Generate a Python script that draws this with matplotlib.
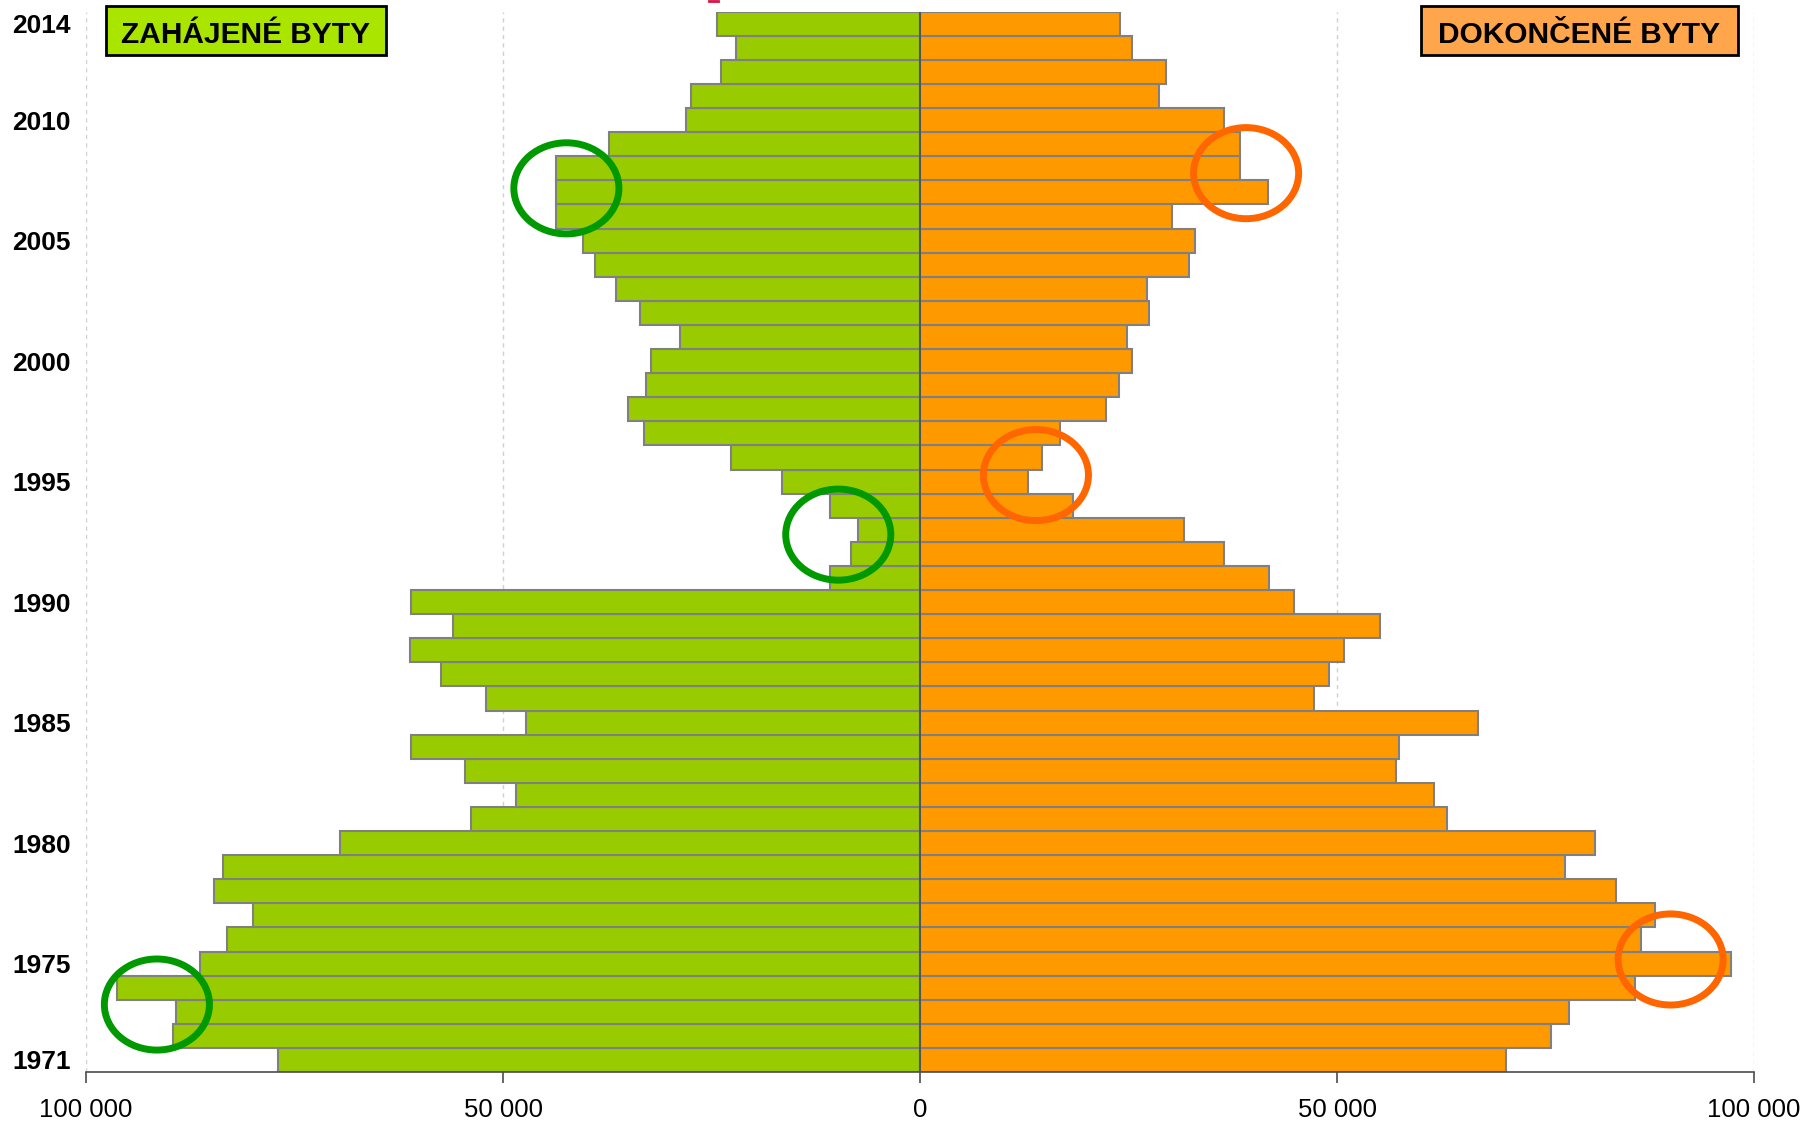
import matplotlib
matplotlib.use('Agg')
import matplotlib.pyplot as plt
from matplotlib.patches import Ellipse, Rectangle
from matplotlib.lines import Line2D

plt.rcParams['font.family'] = ['Liberation Sans', 'DejaVu Sans']

years = list(range(1971, 2015))
# zahajene byty (started), 1971..2014
started = [77000, 89600, 89200, 96300, 86300, 83100, 80000, 84700, 83600, 69500,
           53800, 48400, 54500, 61000, 47300, 52000, 57400, 61200, 56000, 61000,
           10800, 8300, 7400, 10800, 16500, 22700, 33100, 35000, 32900, 32300,
           28800, 33600, 36500, 39000, 40400, 43700, 43700, 43600, 37300, 28000,
           27500, 23900, 22100, 24300]
# dokoncene byty (completed), 1971..2014
completed = [70300, 75600, 77800, 85700, 97200, 86400, 88100, 83400, 77300, 80900,
             63200, 61600, 57100, 57400, 66900, 47200, 49100, 50800, 55200, 44800,
             41900, 36500, 31600, 18300, 13000, 14600, 16800, 22300, 23900, 25400,
             24800, 27500, 27200, 32300, 33000, 30200, 41700, 38400, 38400, 36500,
             28700, 29500, 25400, 24000]
year_ticks = [1971, 1975, 1980, 1985, 1990, 1995, 2000, 2005, 2010, 2014]
x_ticks = [-100000, -50000, 0, 50000, 100000]
x_labels = ['100 000', '50 000', '0', '50 000', '100 000']

# highlighted spots (value, year)
green_marks = [(-42400, 2007.17), (-9800, 1992.8), (-91500, 1973.3)]
orange_marks = [(39100, 2007.8), (13900, 1995.27), (90000, 1975.17)]

W, H = 1811, 1123
fig = plt.figure(figsize=(W / 100, H / 100), dpi=100)
ax = fig.add_axes([86 / W, 51 / H, 1668 / W, 1060.3 / H])

neg = [-v for v in started]
ax.barh(years, neg, height=1.0, color='#99CC00', edgecolor='#808080', linewidth=1.5, zorder=2)
ax.barh(years, completed, height=1.0, color='#FF9900', edgecolor='#808080', linewidth=1.5, zorder=2)
ax.axvline(0, color='#4d4d4d', linewidth=1.2, zorder=3)

for x in [-100000, -50000, 50000, 100000]:
    ax.axvline(x, color='#d0d0d0', linewidth=1, linestyle=(0, (3, 3)), zorder=1)

for cx, cy in green_marks:
    ax.add_patch(Ellipse((cx, cy), 12600, 3.78, fill=False, edgecolor='#009900', linewidth=5, zorder=4))
for cx, cy in orange_marks:
    ax.add_patch(Ellipse((cx, cy), 12600, 3.78, fill=False, edgecolor='#FF6600', linewidth=5, zorder=4))

ax.set_xlim(-100000, 100000)
ax.set_ylim(1970.5, 2014.5)
ax.set_xticks(x_ticks)
ax.set_xticklabels(x_labels, fontsize=18.5)
ax.set_yticks(year_ticks)
ax.set_yticklabels([str(y) for y in year_ticks], fontsize=19, fontweight='bold')
ax.tick_params(axis='y', length=0, pad=11)
ax.tick_params(axis='x', length=8, width=1.2, color='#4d4d4d', pad=11)
for s in ['top', 'right', 'left']:
    ax.spines[s].set_visible(False)
ax.spines['bottom'].set_color('#4d4d4d')
ax.spines['bottom'].set_linewidth(1.2)

# label boxes
def label_box(x0, x1, text, color):
    y0, y1 = 6, 55
    fig.add_artist(Rectangle((x0 / W, 1 - y1 / H), (x1 - x0) / W, (y1 - y0) / H,
                             transform=fig.transFigure, facecolor=color,
                             edgecolor='black', linewidth=2))
    fig.text((x0 + x1) / 2 / W, 1 - 43 / H, text, ha='center', va='baseline',
             fontsize=21.5, fontweight='bold', color='black')

label_box(106, 386, 'ZAHÁJENÉ BYTY', '#AAE500')
label_box(1421, 1738, 'DOKONČENÉ BYTY', '#FFA64D')

# small red mark at top edge
fig.add_artist(Line2D([709 / W, 718 / W], [1 - 1 / H, 1 - 1 / H], transform=fig.transFigure,
                      color='#DD1144', linewidth=2))

fig.savefig('out.png', dpi=100)
plt.close(fig)
